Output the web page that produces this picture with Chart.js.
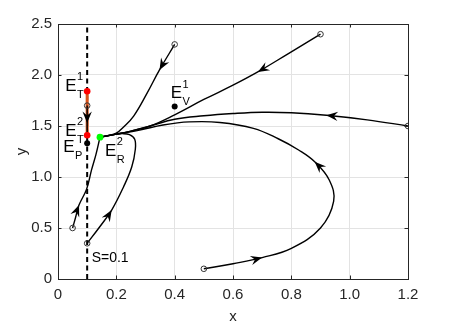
<!DOCTYPE html>
<html>
<head>
<meta charset="utf-8">
<script src="https://cdn.jsdelivr.net/npm/chart.js@4.4.0/dist/chart.umd.min.js"></script>
<style>
html, body { margin: 0; padding: 0; background: #fff; }
#wrap { width: 450px; height: 327px; }
</style>
</head>
<body>
<div id="wrap"><canvas id="phase" width="450" height="327"></canvas></div>
<script>
const x_ticks = [0, 0.2, 0.4, 0.6, 0.8, 1, 1.2];
const y_ticks = [0, 0.5, 1, 1.5, 2, 2.5];

// trajectories in the (x, y) plane, first point = initial condition
const traj_a = [[0.4, 2.3], [0.348, 2.05], [0.305, 1.82], [0.26, 1.6], [0.225, 1.49], [0.2, 1.43], [0.17, 1.405], [0.144, 1.39]];
const traj_b = [[0.9, 2.4], [0.79, 2.21], [0.685, 2.03], [0.6, 1.9], [0.5, 1.76], [0.4, 1.61], [0.316, 1.5], [0.25, 1.45], [0.2, 1.42], [0.144, 1.39]];
const traj_c = [[1.2, 1.5], [1.06, 1.56], [0.92, 1.605], [0.8, 1.63], [0.7, 1.635], [0.6, 1.622], [0.5, 1.6], [0.4, 1.566], [0.316, 1.5], [0.25, 1.45], [0.2, 1.42], [0.144, 1.39]];
const traj_d = [[0.5, 0.1], [0.6, 0.15], [0.7, 0.21], [0.8, 0.3], [0.9, 0.5], [0.945, 0.76], [0.93, 0.97], [0.88, 1.15], [0.825, 1.265], [0.755, 1.375], [0.67, 1.477], [0.555, 1.535], [0.45, 1.54], [0.36, 1.51], [0.28, 1.46], [0.2, 1.42], [0.144, 1.39]];
const traj_e = [[0.05, 0.5], [0.06, 0.6], [0.072, 0.725], [0.098, 0.88], [0.115, 1.07], [0.13, 1.22], [0.144, 1.39]];
const traj_f = [[0.1, 0.35], [0.14, 0.5], [0.184, 0.676], [0.225, 0.905], [0.253, 1.1], [0.265, 1.27], [0.263, 1.37], [0.245, 1.415], [0.22, 1.425], [0.2, 1.42], [0.17, 1.405], [0.144, 1.39]];
const traj_g = [[0.1, 1.7], [0.1, 1.53], [0.1, 1.41]];
const trajectories = [traj_a, traj_b, traj_c, traj_d, traj_e, traj_f, traj_g];

// arrow heads: [trajectory, point index]
const arrows = [[0, 1], [1, 2], [2, 2], [3, 2], [3, 7], [4, 2], [5, 2], [6, 1]];

const s_line = [[0.1, 0], [0.1, 2.5]];
const seg_t = [[0.1, 1.84], [0.1, 1.41]];

const eq_red = [[0.1, 1.84], [0.1, 1.41]];
const eq_green = [[0.144, 1.39]];
const eq_black = [[0.1, 1.33], [0.4, 1.69]];

const eq_labels = [
	{pt: [0.1, 1.84], sup: '1', sub: 'T'},
	{pt: [0.1, 1.41], sup: '2', sub: 'T'},
	{pt: [0.1, 1.33], sup: '', sub: 'P'},
	{pt: [0.144, 1.39], sup: '2', sub: 'R'},
	{pt: [0.4, 1.69], sup: '1', sub: 'V'}
];
// pixel offset of the "E" (left edge, middle) from its point
const label_off = [[-22, -5], [-22, -4], [-24, 4], [5, 14], [-4, -13]];

const FONT = '"Liberation Sans", Arial, sans-serif';
const AX = '#262626';
const to_xy = p => ({x: p[0], y: p[1]});

Chart.defaults.font.family = FONT;
Chart.defaults.color = AX;

const datasets = [];
datasets.push({data: s_line.map(to_xy), showLine: true, borderColor: '#000', borderWidth: 2, borderDash: [5, 3.5], pointRadius: 0, order: 10});
datasets.push({data: seg_t.map(to_xy), showLine: true, borderColor: '#D95319', borderWidth: 3, pointRadius: 0, order: 9});
trajectories.forEach(t => {
	datasets.push({data: t.map(to_xy), showLine: true, borderColor: '#000', borderWidth: 1.4, tension: 0.4, pointRadius: 0, order: 8});
});
datasets.push({data: trajectories.map(t => to_xy(t[0])), pointRadius: 2.8, pointBorderWidth: 1, pointBorderColor: '#333', pointBackgroundColor: 'rgba(255,255,255,0)', order: 5});
datasets.push({data: eq_red.map(to_xy), pointRadius: 3.3, pointBorderWidth: 0, pointBackgroundColor: '#ff0000', order: 2});
datasets.push({data: eq_green.map(to_xy), pointRadius: 3.4, pointBorderWidth: 0, pointBackgroundColor: '#00ff00', order: 2});
datasets.push({data: eq_black.map(to_xy), pointRadius: 3, pointBorderWidth: 0, pointBackgroundColor: '#000', order: 2});

const decor = {
	id: 'decor',
	afterDatasetsDraw(chart) {
		const ctx = chart.ctx, xs = chart.scales.x, ys = chart.scales.y;
		const px = p => [xs.getPixelForValue(p[0]), ys.getPixelForValue(p[1])];
		ctx.save();
		ctx.fillStyle = '#000';
		arrows.forEach(([ti, pi]) => {
			const t = trajectories[ti];
			const [x, y] = px(t[pi]);
			const [x0, y0] = px(t[pi - 1]);
			const [x1, y1] = px(t[pi + 1]);
			ctx.save();
			ctx.translate(x, y);
			ctx.rotate(Math.atan2(y1 - y0, x1 - x0));
			ctx.beginPath();
			ctx.moveTo(0, 0);
			ctx.lineTo(-11.5, 4.7);
			ctx.lineTo(-7.5, 0);
			ctx.lineTo(-11.5, -4.7);
			ctx.closePath();
			ctx.fill();
			ctx.restore();
		});

		// equilibrium labels
		ctx.fillStyle = '#000';
		ctx.textBaseline = 'middle';
		ctx.textAlign = 'left';
		eq_labels.forEach((l, i) => {
			const [x, y] = px(l.pt);
			const lx = x + label_off[i][0], ly = y + label_off[i][1];
			ctx.font = '17px ' + FONT;
			ctx.fillText('E', lx, ly);
			const w = ctx.measureText('E').width;
			ctx.font = '11px ' + FONT;
			if (l.sup) ctx.fillText(l.sup, lx + w + 0.5, ly - 9);
			ctx.fillText(l.sub, lx + w + 0.5, ly + 8.5);
		});

		ctx.font = '14px ' + FONT;
		const [sx, sy] = px([0.1, 0.2]);
		ctx.fillText('S=0.1', sx + 4.5, sy);
		ctx.restore();
	},
	afterDraw(chart) {
		const ctx = chart.ctx, a = chart.chartArea, xs = chart.scales.x, ys = chart.scales.y;
		ctx.save();
		ctx.strokeStyle = AX;
		ctx.lineWidth = 1;
		ctx.beginPath();
		ctx.rect(Math.round(a.left) + 0.5, Math.round(a.top) + 0.5, Math.round(a.right - a.left), Math.round(a.bottom - a.top));
		ctx.stroke();
		// inward tick marks on all four sides
		ctx.beginPath();
		x_ticks.forEach(v => {
			const x = Math.round(xs.getPixelForValue(v)) + 0.5;
			ctx.moveTo(x, a.bottom); ctx.lineTo(x, a.bottom - 3.5);
			ctx.moveTo(x, a.top); ctx.lineTo(x, a.top + 3.5);
		});
		y_ticks.forEach(v => {
			const y = Math.round(ys.getPixelForValue(v)) + 0.5;
			ctx.moveTo(a.left, y); ctx.lineTo(a.left + 3.5, y);
			ctx.moveTo(a.right, y); ctx.lineTo(a.right - 3.5, y);
		});
		ctx.stroke();
		ctx.restore();
	}
};

new Chart(document.getElementById('phase'), {
	type: 'scatter',
	data: {datasets: datasets},
	options: {
		responsive: false,
		animation: false,
		layout: {padding: {top: 24, right: 42, bottom: 0, left: 0}},
		plugins: {legend: {display: false}, tooltip: {enabled: false}},
		scales: {
			x: {
				type: 'linear', min: 0, max: 1.2,
				afterBuildTicks: s => { s.ticks = x_ticks.map(v => ({value: v})); },
				afterFit: s => { s.height = 48; },
				grid: {color: '#e3e3e3', drawTicks: false},
				border: {color: AX},
				ticks: {font: {size: 15}, color: AX, padding: 7, maxRotation: 0},
				title: {display: true, text: 'x', font: {size: 15}, color: AX, padding: {top: 0, bottom: 1}}
			},
			y: {
				type: 'linear', min: 0, max: 2.5,
				afterBuildTicks: s => { s.ticks = y_ticks.map(v => ({value: v})); },
				afterFit: s => { s.width = 58; },
				grid: {color: '#e3e3e3', drawTicks: false},
				border: {color: AX},
				ticks: {font: {size: 15}, color: AX, padding: 6},
				title: {display: true, text: 'y', font: {size: 15}, color: AX, padding: {top: 13, bottom: 0}}
			}
		}
	},
	plugins: [decor]
});
</script>
</body>
</html>
